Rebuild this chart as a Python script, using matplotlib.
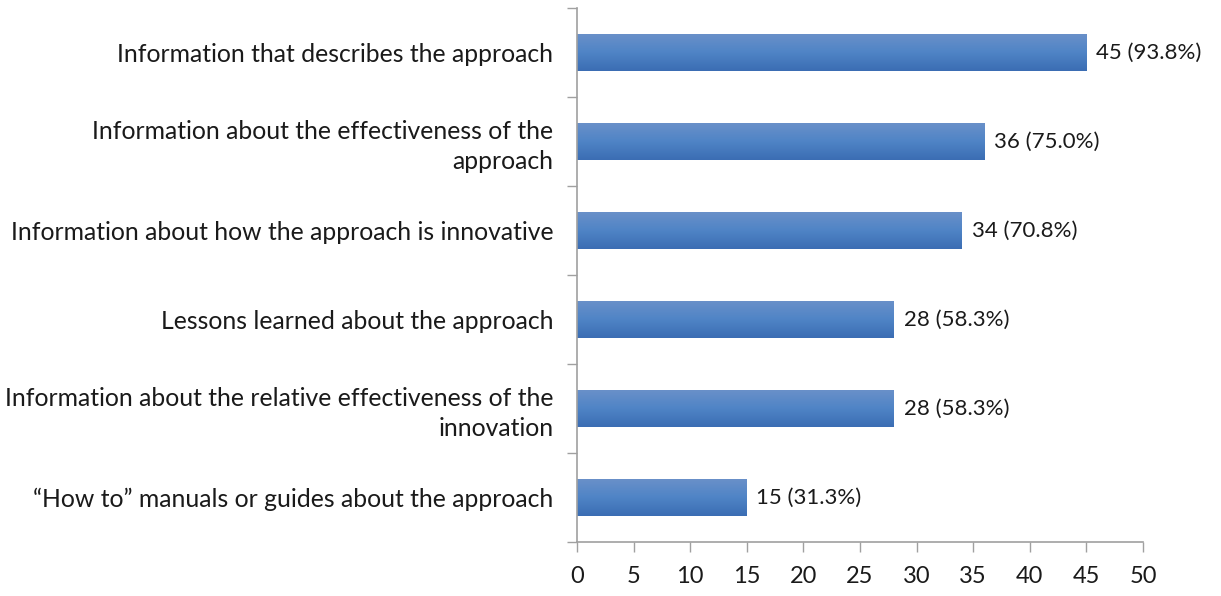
import numpy as np
import matplotlib
matplotlib.use("Agg")
import matplotlib.pyplot as plt
from matplotlib.colors import LinearSegmentedColormap

categories = [
    "Information that describes the approach",
    "Information about the effectiveness of the\napproach",
    "Information about how the approach is innovative",
    "Lessons learned about the approach",
    "Information about the relative effectiveness of the\ninnovation",
    "\u201cHow to\u201d manuals or guides about the approach",
]
counts = [45, 36, 34, 28, 28, 15]
percents = [93.8, 75.0, 70.8, 58.3, 58.3, 31.3]
x_ticks = [0, 5, 10, 15, 20, 25, 30, 35, 40, 45, 50]

plt.rcParams['font.family'] = ['Lato', 'DejaVu Sans']

fig = plt.figure(figsize=(12.21, 5.96), dpi=100)
ax = fig.add_axes([0.4726, 0.0906, 0.4635, 0.896])

n = len(categories)
ypos = np.arange(n)[::-1]  # first category at top
bar_h = 0.41

grad = LinearSegmentedColormap.from_list("barfill", ["#3b6db3", "#4f84c6", "#6990c9"])
gimg = np.linspace(0, 1, 64).reshape(-1, 1)

for y, c, p in zip(ypos, counts, percents):
    ax.imshow(gimg, cmap=grad, aspect='auto', origin='lower',
              extent=[0, c, y - bar_h / 2, y + bar_h / 2], zorder=2)
    ax.text(c + 0.85, y, f"{c} ({p:.1f}%)", va='center', ha='left',
            fontsize=16, color='#1a1a1a')

ax.set_xlim(0, 50)
ax.set_ylim(-0.5, n - 0.5)

ax.set_xticks(x_ticks)
ax.set_xticklabels([str(t) for t in x_ticks], fontsize=17, color='#1a1a1a')
ax.tick_params(axis='x', length=7, width=1, color='#a0a0a0', pad=10)

ax.set_yticks(ypos)
ax.set_yticklabels(categories, fontsize=17.8, color='#1a1a1a', ha='right',
                   multialignment='right', linespacing=1.35)
ax.tick_params(axis='y', which='major', length=0, pad=17)
ax.set_yticks(np.arange(-0.5, n, 1.0), minor=True)
ax.tick_params(axis='y', which='minor', length=7, width=1, color='#a0a0a0')

for side in ('top', 'right'):
    ax.spines[side].set_visible(False)
for side in ('left', 'bottom'):
    ax.spines[side].set_color('#a0a0a0')
    ax.spines[side].set_linewidth(1.2)

fig.savefig("out.png", dpi=100)
